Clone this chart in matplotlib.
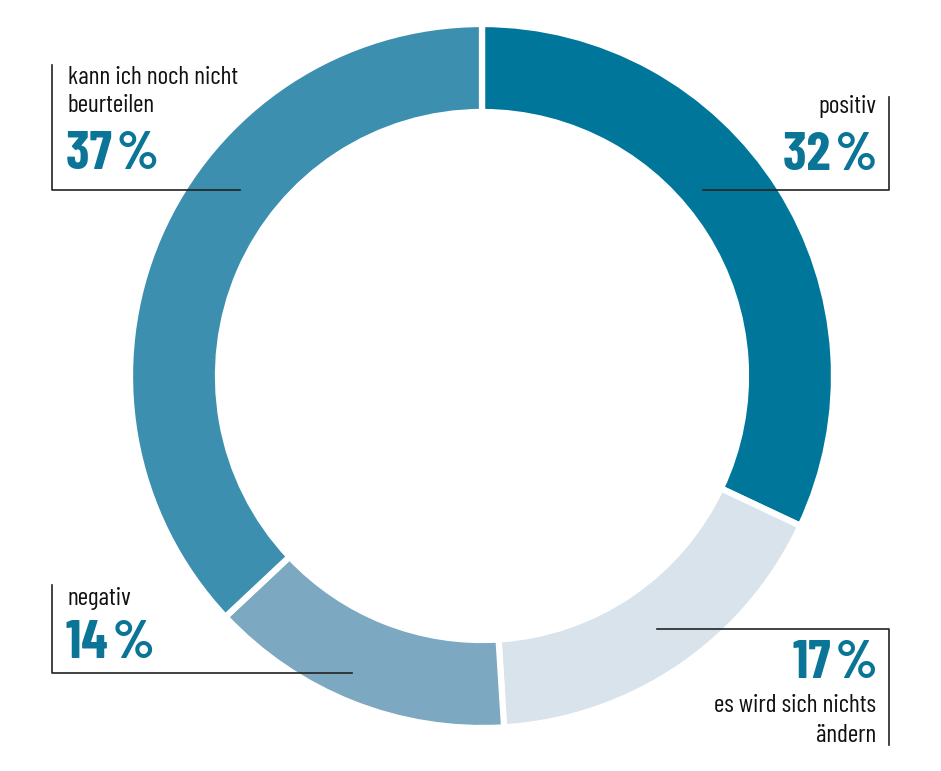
import matplotlib
matplotlib.use("Agg")
import matplotlib.pyplot as plt

labels = ["positiv", "es wird sich nichts\nändern", "negativ", "kann ich noch nicht\nbeurteilen"]
values = [32, 17, 14, 37]
pct_labels = ["32\u200a%", "17\u200a%", "14\u200a%", "37\u200a%"]
colors = ["#00769A", "#D9E3EC", "#7CA8C1", "#3C8FAF"]

W, H = 941, 771
fig = plt.figure(figsize=(W / 100, H / 100), dpi=100)
ax = fig.add_axes([0, 0, 1, 1])

def Y(y):
    return H - y

cx, cy, R, ring = 482, Y(376), 352, 88
ax.pie(values, colors=colors, startangle=90, counterclock=False,
       center=(cx, cy), radius=R,
       wedgeprops=dict(width=ring, edgecolor="white", linewidth=4.5),
       frame=True)
ax.set_xlim(0, W)
ax.set_ylim(0, H)
ax.set_aspect("equal")
ax.axis("off")

fam = ["Barlow Condensed", "DejaVu Sans"]
lab_fs = 18.3
pct_fs = 39
pct_color = "#0A7596"
txt_color = "#111111"
lc = "#222222"
lw = 1.2

def lab(x, y, s, ha):
    ax.text(x, Y(y), s, fontsize=lab_fs, family=fam, va="center", ha=ha, color=txt_color)

def pct(x, y, s, ha):
    ax.text(x, Y(y), s, fontsize=pct_fs, family=fam, weight="bold", va="center", ha=ha, color=pct_color)

# kann ich noch nicht beurteilen (top left)
ax.plot([52, 52, 240], [Y(65), Y(190), Y(190)], color=lc, lw=lw)
lab(68, 77, "kann ich noch nicht", "left")
lab(68, 106, "beurteilen", "left")
pct(66, 155, pct_labels[3], "left")

# positiv (top right)
ax.plot([703, 889, 889], [Y(190), Y(190), Y(97)], color=lc, lw=lw)
lab(876, 107, labels[0], "right")
pct(877, 156, pct_labels[0], "right")

# negativ (bottom left)
ax.plot([52, 52, 352], [Y(585), Y(673), Y(673)], color=lc, lw=lw)
lab(68, 599, labels[2], "left")
pct(66, 644, pct_labels[2], "left")

# es wird sich nichts ändern (bottom right)
ax.plot([657, 889, 889], [Y(629), Y(629), Y(745)], color=lc, lw=lw)
pct(877, 664, pct_labels[1], "right")
lab(876, 705, "es wird sich nichts", "right")
lab(876, 735, "ändern", "right")

fig.savefig("out.png", dpi=100, facecolor="white")
